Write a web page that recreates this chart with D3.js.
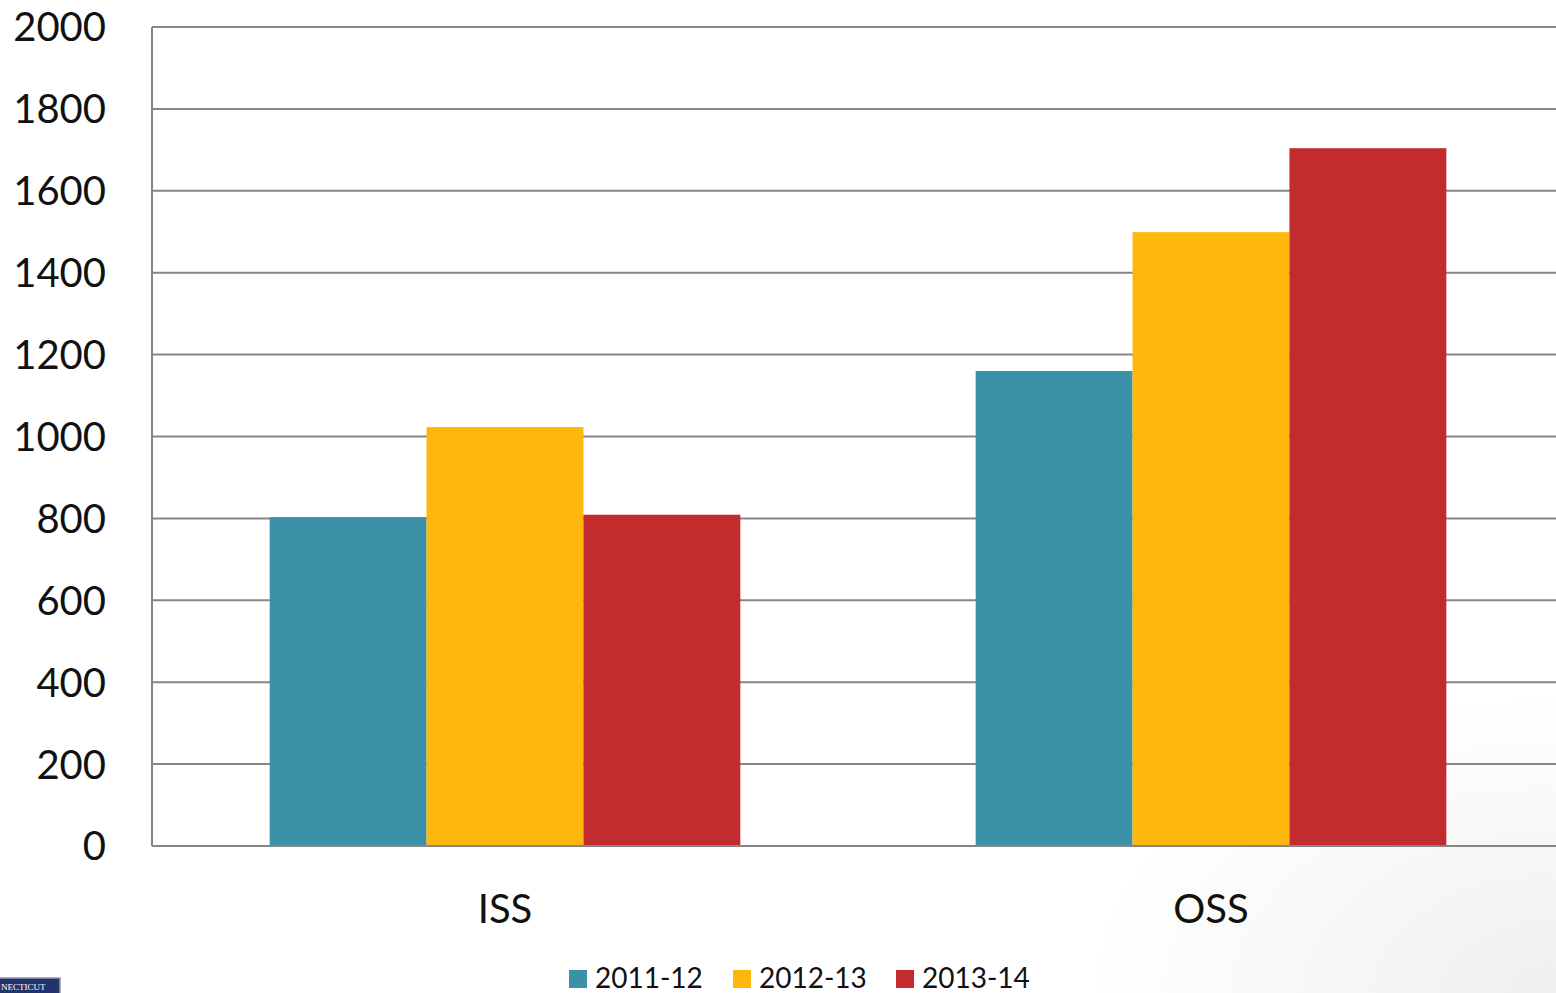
<!DOCTYPE html>
<html lang="en">
<head>
    <meta charset="UTF-8">
    <title>ISS / OSS by year</title>
    <script src="https://d3js.org/d3.v7.min.js"></script>
    <style>
        body {
            margin: 0;
            overflow: hidden;
            font-family: Lato, "Open Sans", sans-serif;
        }
        .grid line {
            stroke: #868686;
            stroke-width: 2px;
        }
        .tick-label {
            font-size: 40px;
            fill: #111;
        }
        .cat-label {
            font-size: 40px;
            fill: #111;
        }
        .legend text {
            font-size: 28px;
            fill: #111;
        }
    </style>
</head>
<body>
    <script>
        // chart data
        const categories = ["ISS", "OSS"];
        const seriesNames = ["2011-12", "2012-13", "2013-14"];
        const seriesColors = ["#3A91A8", "#FDB70D", "#C32C2F"];
        const values2011 = [803, 1160];
        const values2012 = [1023, 1499];
        const values2013 = [809, 1704];
        const yTicks = [0, 200, 400, 600, 800, 1000, 1200, 1400, 1600, 1800, 2000];

        const series = [values2011, values2012, values2013];

        const width = 1556, height = 993;
        const plot = { left: 152, right: 1564, top: 27, bottom: 846 };

        const svg = d3.select("body").append("svg")
            .attr("width", width)
            .attr("height", height);

        // faint grey wash towards bottom-right, like the slide background
        const defs = svg.append("defs");
        const grad = defs.append("radialGradient")
            .attr("id", "bg")
            .attr("cx", "1").attr("cy", "1").attr("r", "0.3");
        grad.append("stop").attr("offset", "0").attr("stop-color", "#efefef");
        grad.append("stop").attr("offset", "1").attr("stop-color", "#ffffff");
        svg.append("rect")
            .attr("width", width).attr("height", height)
            .attr("fill", "url(#bg)");

        const y = d3.scaleLinear().domain([0, 2000]).range([plot.bottom, plot.top]);
        const x0 = d3.scaleBand().domain(categories).range([plot.left, plot.right]);
        const x1 = d3.scaleBand().domain(seriesNames)
            .range([0, x0.bandwidth()])
            .paddingOuter(0.75);

        // gridlines
        const grid = svg.append("g").attr("class", "grid");
        grid.selectAll("line")
            .data(yTicks)
            .join("line")
            .attr("x1", plot.left)
            .attr("x2", plot.right)
            .attr("y1", d => y(d))
            .attr("y2", d => y(d));
        grid.append("line")
            .attr("x1", plot.left).attr("x2", plot.left)
            .attr("y1", plot.top).attr("y2", plot.bottom);

        // y labels
        svg.append("g").selectAll("text")
            .data(yTicks)
            .join("text")
            .attr("class", "tick-label")
            .attr("x", 106)
            .attr("y", d => y(d))
            .attr("dy", "0.36em")
            .attr("text-anchor", "end")
            .text(d => d);

        // bars
        const groups = svg.append("g").selectAll("g")
            .data(categories)
            .join("g")
            .attr("transform", d => `translate(${x0(d)},0)`);

        groups.selectAll("rect")
            .data((d, i) => series.map((s, j) => ({ name: seriesNames[j], value: s[i], color: seriesColors[j] })))
            .join("rect")
            .attr("x", d => x1(d.name))
            .attr("width", x1.bandwidth())
            .attr("y", d => y(d.value))
            .attr("height", d => y(0) - y(d.value))
            .attr("fill", d => d.color);

        // redraw baseline over bars
        svg.append("line")
            .attr("x1", plot.left).attr("x2", plot.right)
            .attr("y1", y(0)).attr("y2", y(0))
            .attr("stroke", "#868686").attr("stroke-width", 2);

        // category labels
        svg.append("g").selectAll("text")
            .data(categories)
            .join("text")
            .attr("class", "cat-label")
            .attr("x", d => x0(d) + x0.bandwidth() / 2)
            .attr("y", 923)
            .attr("text-anchor", "middle")
            .text(d => d);

        // legend
        const legendX = [569, 733, 896];
        const legend = svg.append("g").attr("class", "legend");
        const item = legend.selectAll("g")
            .data(seriesNames)
            .join("g")
            .attr("transform", (d, i) => `translate(${legendX[i]},970)`);
        item.append("rect")
            .attr("width", 18).attr("height", 18)
            .attr("fill", (d, i) => seriesColors[i]);
        item.append("text")
            .attr("x", 26)
            .attr("y", 18)
            .text(d => d);

        // bit of the logo peeking in at the bottom-left
        const logo = svg.append("g").attr("transform", "translate(-4,978)");
        logo.append("rect")
            .attr("width", 64).attr("height", 20)
            .attr("fill", "#23336b")
            .attr("stroke", "#8f97b5").attr("stroke-width", 1.5);
        logo.append("text")
            .attr("x", 5).attr("y", 12)
            .attr("font-family", "Liberation Serif, serif")
            .attr("font-size", 9)
            .attr("fill", "#fff")
            .text("NECTICUT");
    </script>
</body>
</html>
